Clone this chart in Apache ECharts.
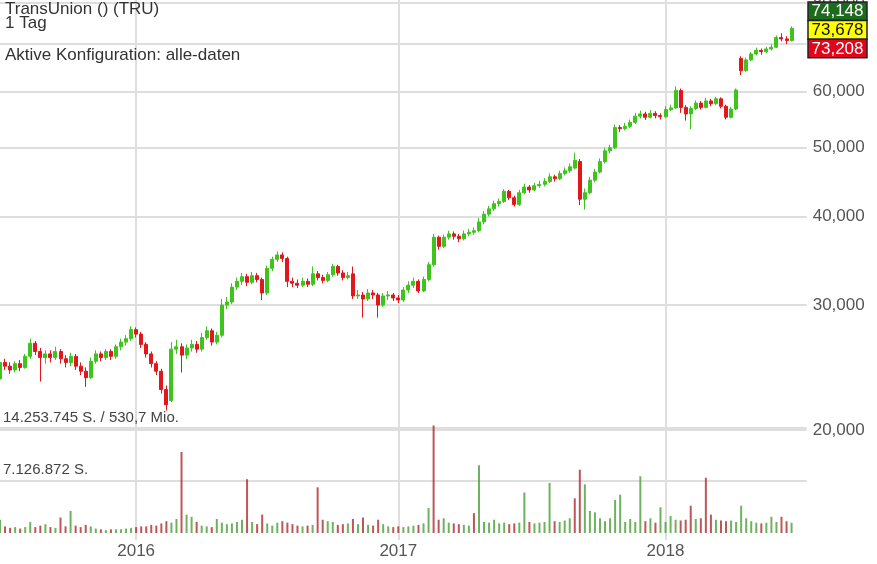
<!DOCTYPE html>
<html><head><meta charset="utf-8">
<script src="https://cdn.jsdelivr.net/npm/echarts@6/dist/echarts.min.js"></script>
<style>html,body{margin:0;padding:0;background:#fff}#c{width:877px;height:564px}</style>
</head><body><div id="c"></div>
<script>
// Wochen (Montag) – TransUnion (TRU), Wochenkerzen
const weeks = [
'2015-06-22','2015-06-29','2015-07-06','2015-07-13','2015-07-20','2015-07-27','2015-08-03','2015-08-10','2015-08-17','2015-08-24',
'2015-08-31','2015-09-07','2015-09-14','2015-09-21','2015-09-28','2015-10-05','2015-10-12','2015-10-19','2015-10-26','2015-11-02',
'2015-11-09','2015-11-16','2015-11-23','2015-11-30','2015-12-07','2015-12-14','2015-12-21','2015-12-28',
'2016-01-04','2016-01-11','2016-01-18','2016-01-25','2016-02-01','2016-02-08','2016-02-15','2016-02-22','2016-02-29','2016-03-07',
'2016-03-14','2016-03-21','2016-03-28','2016-04-04','2016-04-11','2016-04-18','2016-04-25','2016-05-02','2016-05-09','2016-05-16',
'2016-05-23','2016-05-30','2016-06-06','2016-06-13','2016-06-20','2016-06-27','2016-07-04','2016-07-11','2016-07-18','2016-07-25',
'2016-08-01','2016-08-08','2016-08-15','2016-08-22','2016-08-29','2016-09-05','2016-09-12','2016-09-19','2016-09-26','2016-10-03',
'2016-10-10','2016-10-17','2016-10-24','2016-10-31','2016-11-07','2016-11-14','2016-11-21','2016-11-28','2016-12-05','2016-12-12',
'2016-12-19','2016-12-26',
'2017-01-02','2017-01-09','2017-01-16','2017-01-23','2017-01-30','2017-02-06','2017-02-13','2017-02-20','2017-02-27','2017-03-06',
'2017-03-13','2017-03-20','2017-03-27','2017-04-03','2017-04-10','2017-04-17','2017-04-24','2017-05-01','2017-05-08','2017-05-15',
'2017-05-22','2017-05-29','2017-06-05','2017-06-12','2017-06-19','2017-06-26','2017-07-03','2017-07-10','2017-07-17','2017-07-24',
'2017-07-31','2017-08-07','2017-08-14','2017-08-21','2017-08-28','2017-09-04','2017-09-11','2017-09-18','2017-09-25','2017-10-02',
'2017-10-09','2017-10-16','2017-10-23','2017-10-30','2017-11-06','2017-11-13','2017-11-20','2017-11-27','2017-12-04','2017-12-11',
'2017-12-18','2017-12-25',
'2018-01-01','2018-01-08','2018-01-15','2018-01-22','2018-01-29','2018-02-05','2018-02-12','2018-02-19','2018-02-26','2018-03-05',
'2018-03-12','2018-03-19','2018-03-26','2018-04-02','2018-04-09','2018-04-16','2018-04-23','2018-04-30','2018-05-07','2018-05-14',
'2018-05-21','2018-05-28','2018-06-04','2018-06-11','2018-06-18','2018-06-25'
];
const open = [
23.6,24.9,24.6,24.3,24.8,24.5,25.4,26.5,25.8,25.3, 25.6,25.3,25.8,25.2,24.9,25.4,24.6,24.2,23.7,25.0,
25.6,25.3,25.8,25.4,26.2,26.6,26.9,27.7,27.3,26.4, 25.6,24.8,24.2,22.8,22.0,26.0,26.2,25.5,26.1,26.4,
26.0,27.0,27.6,26.6,27.2,30.0,30.3,31.8,32.4,32.9, 32.3,33.0,32.6,31.2,33.8,34.8,35.3,34.9,32.4,32.2,
32.0,32.4,32.1,33.2,32.8,32.5,33.1,34.0,33.3,32.8, 33.2,30.9,31.0,30.6,31.2,31.0,30.0,30.9,31.0,30.7,
30.5,31.5,32.0,32.4,31.4,32.6,34.2,37.4,36.3,37.4, 37.8,37.5,37.2,37.8,38.0,38.2,39.3,40.3,41.0,41.7,
42.0,43.4,42.5,41.6,43.2,44.0,43.6,44.2,44.4,44.8, 45.5,45.2,46.0,46.4,46.8,47.8,42.3,43.2,45.0,46.2,
47.8,49.5,50.0,53.4,53.2,53.6,54.3,55.4,55.8,55.2, 55.9,55.5,55.3,56.6,56.9,60.2,57.0,55.8,56.8,57.8,
57.0,58.2,57.7,58.6,57.2,55.2,56.7,66.8,64.2,66.5, 67.8,68.6,68.3,68.9,69.3,71.5,71.2,70.8
];
const high = [
25.3,25.2,24.9,25.0,25.1,25.6,26.9,26.7,26.1,25.9, 25.9,26.2,26.0,25.5,25.7,25.6,24.9,24.5,25.3,25.9,
25.8,26.0,26.0,26.4,26.9,27.2,28.0,27.9,27.5,26.6, 25.8,25.0,24.4,23.1,26.6,26.8,26.5,26.4,26.8,26.7,
27.4,28.0,27.8,27.5,30.6,30.8,32.2,32.8,33.3,33.2, 33.4,33.3,32.8,34.1,35.1,35.7,35.6,35.1,32.8,32.6,
32.8,32.7,34.0,33.5,33.1,33.4,34.3,34.2,33.6,33.4, 34.0,31.5,31.3,31.6,31.5,31.2,31.2,31.4,31.2,31.0,
31.8,32.4,32.8,32.6,32.9,34.5,37.8,37.6,37.7,38.2, 38.1,37.8,38.2,38.4,38.6,39.8,40.7,41.4,42.1,42.4,
43.7,43.6,42.8,43.6,44.5,44.3,44.6,44.9,45.3,46.0, 45.8,46.4,46.9,47.5,49.2,48.2,43.8,45.5,46.7,48.3,
50.0,50.5,53.9,53.8,54.2,54.8,56.0,56.4,56.2,56.5, 56.3,55.9,57.2,57.5,61.0,60.6,57.4,57.2,58.3,58.2,
58.8,58.6,59.0,58.9,57.5,57.1,60.6,67.3,67.0,68.2, 69.2,69.0,69.4,70.0,72.0,72.5,71.8,74.148
];
const low = [
23.4,24.3,24.0,24.1,24.2,24.4,25.2,25.5,23.4,24.8, 24.9,25.1,24.8,24.5,24.6,24.3,23.9,23.0,23.6,24.8,
25.0,25.1,25.1,25.2,25.9,26.3,26.7,27.0,26.1,25.3, 24.5,23.9,22.5,21.3,21.9,25.6,24.1,25.2,25.8,25.7,
25.8,26.8,26.3,26.4,27.0,29.6,30.1,31.5,32.0,31.9, 32.1,32.3,30.5,31.0,33.5,34.5,34.5,31.8,31.8,31.7,
31.8,31.8,31.9,32.5,32.2,32.3,32.9,33.0,32.5,32.6, 30.6,30.6,28.8,30.4,30.6,28.8,29.8,30.5,30.4,30.2,
30.3,31.2,31.7,31.2,31.3,32.4,34.0,35.9,36.1,37.1, 37.1,36.8,37.0,37.5,37.7,38.0,39.0,40.0,40.7,41.3,
41.8,42.2,41.3,41.4,43.0,43.2,43.4,43.9,44.1,44.6, 44.8,45.0,45.7,46.1,46.6,41.5,40.9,43.0,44.7,46.0,
47.5,49.1,49.8,52.6,52.9,53.3,54.0,55.0,54.7,55.0, 55.0,54.8,55.1,56.3,56.7,56.0,54.6,53.1,56.5,56.6,
56.8,57.2,57.4,56.8,54.8,55.0,56.5,63.3,64.0,66.2, 67.5,67.6,68.0,68.6,69.1,70.6,70.0,70.6
];
const close = [
24.9,24.6,24.3,24.8,24.5,25.4,26.5,25.8,25.3,25.6, 25.3,25.8,25.2,24.9,25.4,24.6,24.2,23.7,25.0,25.6,
25.3,25.8,25.4,26.2,26.6,26.9,27.7,27.3,26.4,25.6, 24.8,24.2,22.8,21.7,26.0,26.2,25.5,26.1,26.4,26.0,
27.0,27.6,26.6,27.2,30.0,30.3,31.8,32.4,32.9,32.3, 33.0,32.6,31.2,33.8,34.8,35.3,34.9,32.4,32.2,32.0,
32.4,32.1,33.2,32.8,32.5,33.1,34.0,33.3,32.8,33.0, 30.9,31.0,30.6,31.2,31.0,30.0,30.9,31.0,30.7,30.5,
31.5,32.0,32.4,31.4,32.6,34.2,37.4,36.3,37.4,37.8, 37.5,37.2,37.8,38.0,38.2,39.3,40.3,41.0,41.7,42.0,
43.4,42.5,41.6,43.2,44.0,43.6,44.2,44.4,44.8,45.5, 45.2,46.0,46.4,47.0,48.0,42.3,43.2,45.0,46.2,47.8,
49.5,50.0,53.4,53.2,53.6,54.3,55.4,55.8,55.2,55.9, 55.5,55.3,56.6,56.9,60.2,57.0,55.8,56.8,57.8,57.0,
58.2,57.7,58.6,57.2,55.2,56.7,60.3,64.2,66.5,67.8, 68.6,68.3,68.9,69.3,71.5,71.2,70.8,73.678
];
// höchstes Tagesvolumen je Woche, Mio. Stück
const volume = [
1.8,0.9,0.7,0.8,0.6,0.8,1.5,0.8,1.0,1.2, 0.8,0.7,2.1,0.9,3.0,1.0,0.8,1.1,0.9,0.6,
0.5,0.4,0.5,0.5,0.5,0.6,0.7,0.8,0.9,0.9, 1.1,1.0,1.3,1.6,1.4,1.9,11.0,2.5,2.2,1.5,
1.0,0.9,0.8,1.9,1.4,1.2,1.3,1.5,1.8,7.3, 1.5,1.2,2.5,1.3,1.0,1.4,1.6,1.4,1.2,1.0,
0.9,1.0,1.1,6.2,1.8,1.6,1.5,1.1,1.2,1.3, 1.9,1.2,2.1,1.1,1.0,1.8,1.2,0.9,0.8,0.9,
0.8,0.9,1.0,1.1,1.3,3.4,14.6,1.8,2.0,1.4, 1.3,1.2,1.1,1.0,2.7,9.2,1.5,1.4,1.8,1.3,
1.4,1.2,1.3,1.4,5.5,1.5,1.3,1.4,1.5,6.8, 1.6,1.5,1.7,2.0,4.7,8.6,6.6,3.0,2.8,2.0,
1.6,2.0,4.5,5.2,1.5,1.9,1.5,7.7,1.6,2.0, 1.4,3.5,1.5,2.3,1.8,1.7,1.8,3.7,1.9,2.0,
7.5,2.5,1.8,1.7,1.6,1.7,1.5,3.7,2.0,1.6, 1.4,1.3,1.4,2.2,1.5,2.2,1.6,1.4
];
// Farbe des Volumenbalkens je Woche: u = steigend (grün), d = fallend (rot)
const volumeDir =
  "udduduuddu" + "dudduddduu" + "duduuuuddd" + "dddduuduud" + "uuduuuuuud" + "udduuudddd" + "ududduuddu" + "dududduudd" +
  "uuuduudduu" + "dduuduuuuu" + "udduuduuuu" + "duuudduuuu" + "uuuuuuuudu" + "duuuudddud" + "ddudduuuuu" + "uduuuddu";
const yearTicks = ['2015-12-28', '2016-12-26', '2018-01-01'];
const yearLabels = ['2016', '2017', '2018'];
const priceTicks = [20, 30, 40, 50, 60, 70, 80];
const lastQuote = [74.148, 73.678, 73.208];
const volumeLevels = [7.1268725, 14.253745];
const volumeLevelLabels = ['7.126.872 S.', '14.253.745 S. / 530,7 Mio.'];
const headerLines = ['TransUnion () (TRU)', '1 Tag', 'Aktive Konfiguration: alle-daten'];

const FONT = '"Liberation Sans", Arial, Helvetica, sans-serif';
const fmt = v => v.toFixed(3).replace('.', ',');
const UP = '#3ec41c', DOWN = '#e3161b', GRID = '#dedede';
const candles = weeks.map((d, i) => [open[i], close[i], low[i], high[i]]);
const volData = volume.map((v, i) => ({
  value: v,
  itemStyle: { color: volumeDir[i] === 'u' ? 'rgba(72,160,52,0.8)' : 'rgba(176,42,48,0.8)' }
}));

const PL = -1.3, PW = 808;
const chart = echarts.init(document.getElementById('c'), null, { renderer: 'canvas' });
const headerY = [9, 23, 55];
const boxColors = [['#1d6b1d', '#ffffff'], ['#ffff00', '#111111'], ['#e2061c', '#ffffff']];
const graphics = [];
headerLines.forEach((t, i) => graphics.push({
  type: 'text', x: 5, y: headerY[i], z: 50,
  style: { text: t, fill: '#333', font: '17px ' + FONT, verticalAlign: 'middle' }
}));
lastQuote.forEach((v, i) => {
  graphics.push({ type: 'rect', z: 100, shape: { x: 808, y: 2 + i * 18.6, width: 59, height: 18.6 },
    style: { fill: boxColors[i][0], stroke: '#222', lineWidth: 1.5 } });
  graphics.push({ type: 'text', z: 101, x: 837.5, y: 2 + i * 18.6 + 9.8,
    style: { text: fmt(v), fill: boxColors[i][1], font: '17px ' + FONT, align: 'center', verticalAlign: 'middle' } });
});

chart.setOption({
  animation: false,
  backgroundColor: '#fff',
  grid: [
    { left: PL, top: 0, width: PW, height: 540 },
    { left: PL, top: 428, width: PW, height: 105 }
  ],
  xAxis: [
    { type: 'category', gridIndex: 0, data: weeks, boundaryGap: false, max: weeks.length + 2,
      axisLine: { show: false }, axisTick: { show: false },
      axisLabel: { interval: (i, v) => yearTicks.includes(v), formatter: v => yearLabels[yearTicks.indexOf(v)] || '',
        color: '#555', fontSize: 17, fontFamily: FONT, margin: 3 },
      splitLine: { show: true, interval: (i, v) => yearTicks.includes(v), lineStyle: { color: GRID, width: 2 } } },
    { type: 'category', gridIndex: 1, data: weeks, boundaryGap: false, max: weeks.length + 2, show: false }
  ],
  yAxis: [
    { type: 'log', gridIndex: 0, min: 13.99, max: 80.78, show: false },
    { type: 'value', gridIndex: 1, min: 0, max: 14.253745, show: false }
  ],
  series: [
    { type: 'bar', xAxisIndex: 1, yAxisIndex: 1, data: volData, barWidth: 2, clip: false, z: 2,
      markLine: { silent: true, symbol: 'none', z: 1, animation: false,
        lineStyle: { color: GRID, width: 2, type: 'solid' },
        label: { position: 'insideStartTop', distance: 3, color: '#444', fontSize: 15, fontFamily: FONT },
        data: volumeLevels.map((v, i) => ({ yAxis: v, label: { formatter: volumeLevelLabels[i] } })) } },
    { type: 'candlestick', xAxisIndex: 0, yAxisIndex: 0, data: candles, barWidth: 3.5, z: 3,
      itemStyle: { color: UP, color0: DOWN, borderColor: UP, borderColor0: DOWN, borderWidth: 1 },
      markLine: { silent: true, symbol: 'none', z: 1, animation: false,
        lineStyle: { color: GRID, width: 2, type: 'solid' },
        label: { position: 'end', distance: 6, formatter: p => fmt(p.value), color: '#555', fontSize: 17, fontFamily: FONT },
        data: priceTicks.map(v => ({ yAxis: v })) } }
  ],
  graphic: graphics
});
</script>
</body></html>
